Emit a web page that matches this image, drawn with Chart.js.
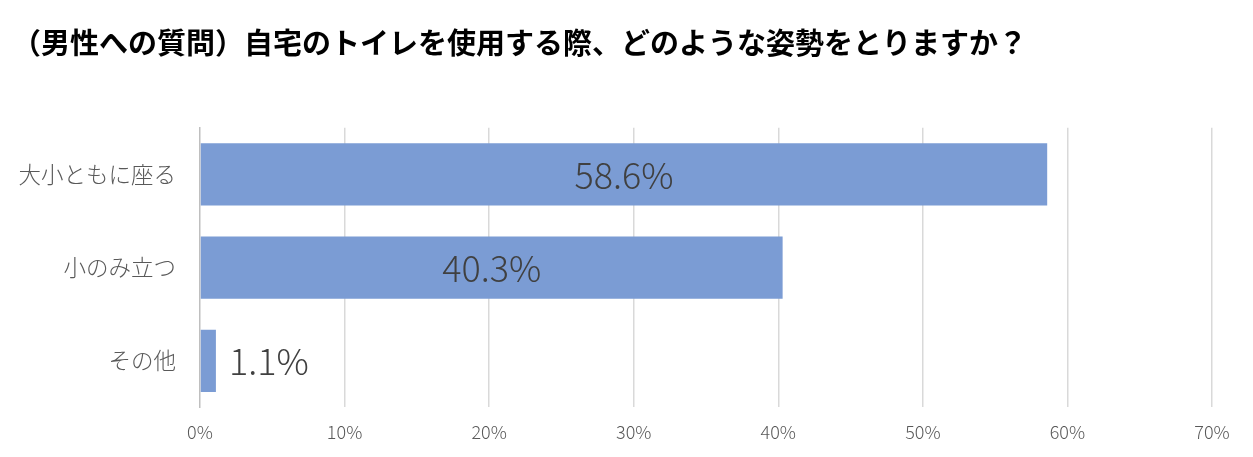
<!DOCTYPE html>
<html>
<head>
<meta charset="utf-8">
<script src="https://cdn.jsdelivr.net/npm/chart.js@4"></script>
<style>
  html, body { margin: 0; padding: 0; background: #fff; }
  #wrap { width: 1253px; height: 457px; }
</style>
</head>
<body>
<div id="wrap"><canvas id="posture_chart"></canvas></div>
<script>
(() => {
	const TITLE = '（男性への質問）自宅のトイレを使用する際、どのような姿勢をとりますか？';
	const categories = ['大小ともに座る', '小のみ立つ', 'その他'];
	const shares = [58.6, 40.3, 1.1];
	const tickValues = [0, 10, 20, 30, 40, 50, 60, 70];

	const FONT = "'Noto Sans CJK JP', 'Noto Sans', sans-serif";

	// value labels: inside the bar when it is wide enough, else just after it
	const barLabels = {
		id: 'barLabels',
		afterDatasetsDraw(chart) {
			const ctx = chart.ctx;
			const meta = chart.getDatasetMeta(0);
			ctx.save();
			ctx.font = '300 36px ' + FONT;
			ctx.fillStyle = '#404040';
			ctx.textBaseline = 'middle';
			meta.data.forEach((bar, i) => {
				const text = shares[i].toFixed(1) + '%';
				const w = bar.x - bar.base;
				if (w > 150) {
					ctx.textAlign = 'center';
					ctx.fillText(text, bar.base + w / 2, bar.y + 1);
				} else {
					ctx.textAlign = 'left';
					ctx.fillText(text, bar.x + 13, bar.y + 1);
				}
			});
			ctx.restore();
		}
	};

	const data = {
		labels: categories,
		datasets: [{
			data: shares,
			backgroundColor: '#7b9cd4',
			categoryPercentage: 1,
			barPercentage: 0.667
		}]
	};

	const config = {
		type: 'bar',
		data: data,
		options: {
			indexAxis: 'y',
			responsive: true,
			maintainAspectRatio: false,
			animation: false,
			layout: { padding: { left: 12, right: 41, top: 0, bottom: 0 } },
			scales: {
				x: {
					min: 0,
					max: 70,
					afterBuildTicks(scale) {
						scale.ticks = tickValues.map(v => ({ value: v }));
					},
					grid: {
						color: ctx => ctx.tick && ctx.tick.value === 0 ? 'rgba(0,0,0,0)' : '#d9d9d9',
						lineWidth: 1.5,
						drawTicks: false
					},
					border: { display: false },
					ticks: {
						padding: 14,
						color: '#595959',
						font: { family: FONT, size: 18, weight: 300 },
						callback: v => v + '%'
					}
				},
				y: {
					afterFit(scale) { scale.width = 188; },
					grid: { display: false, drawTicks: false },
					border: { display: true, color: '#bfbfbf', width: 1.5 },
					ticks: {
						padding: 24,
						color: '#595959',
						font: { family: FONT, size: 22.5, weight: 300 }
					}
				}
			},
			plugins: {
				legend: { display: false },
				tooltip: { enabled: false },
				title: {
					display: true,
					text: TITLE,
					align: 'start',
					color: '#000',
					font: { family: FONT, size: 29, weight: 'bold', lineHeight: 1.2 },
					padding: { top: 26, bottom: 67 }
				}
			}
		},
		plugins: [barLabels]
	};

	new Chart(document.getElementById('posture_chart'), config);
})();
</script>
</body>
</html>
